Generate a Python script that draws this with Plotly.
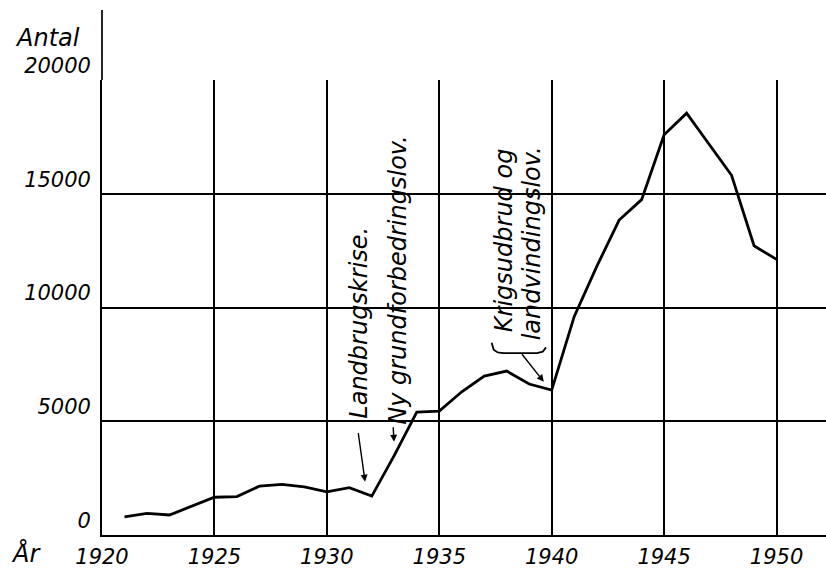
import plotly.graph_objects as go

years = list(range(1921, 1951))
antal = [800, 950, 880, 1270, 1660, 1690, 2150, 2230, 2120, 1900,
         2080, 1710, 3500, 5400, 5450, 6300, 6990, 7210, 6640, 6370,
         9600, 11800, 13850, 14750, 17600, 18550, 17200, 15820, 12720, 12120]

x_ticks = [1920, 1925, 1930, 1935, 1940, 1945, 1950]
x_tick_labels = ["1920", "1925", "1930", "1935", "1940", "1945", "1950"]
y_ticks = [0, 5000, 10000, 15000, 20000]
y_tick_labels = ["0", "5000", "10000", "15000", "20000"]

notes = ["Landbrugskrise.", "Ny grundforbedringslov.", "Krigsudbrud og", "landvindingslov."]
note_x = [1931.39, 1933.15, 1937.88, 1939.11]
note_y = [9341, 11209, 12967, 12813]

FONT = "DejaVu Sans"

fig = go.Figure()
fig.add_trace(go.Scatter(x=years, y=antal, mode="lines",
                         line=dict(color="black", width=2.8), hoverinfo="skip"))

fig.update_layout(
    width=826, height=569,
    margin=dict(l=102, r=0, t=80, b=34, autoexpand=False),
    paper_bgcolor="white", plot_bgcolor="white",
    showlegend=False,
    font=dict(family=FONT, color="black", style="italic"),
)
fig.update_xaxes(
    range=[1920, 1952.2], tickvals=x_ticks, ticktext=x_tick_labels,
    showgrid=True, gridcolor="black", gridwidth=1.6,
    showline=True, linecolor="black", linewidth=1.7,
    zeroline=False, ticks="", ticklabelstandoff=2, automargin=False,
    tickfont=dict(size=21, family=FONT, style="italic"),
)
fig.update_yaxes(
    range=[0, 20010], tickvals=y_ticks, ticktext=y_tick_labels,
    showgrid=True, gridcolor="black", gridwidth=1.6,
    showline=True, linecolor="black", linewidth=1.7,
    zeroline=False, ticks="", ticklabelposition="outside top",
    ticklabelstandoff=5, automargin=False,
    tickfont=dict(size=21, family=FONT, style="italic"),
)

# extension of the vertical axis above the top gridline
fig.add_shape(type="line", xref="paper", yref="paper", x0=0, x1=0, y0=1, y1=1.1538,
              line=dict(color="black", width=1.7))

for t, x, y in zip(notes, note_x, note_y):
    fig.add_annotation(x=x, y=y, text=t, showarrow=False, textangle=-90,
                       xanchor="center", yanchor="middle",
                       font=dict(size=24, family=FONT, style="italic"))

# arrows
fig.add_annotation(x=1931.70, y=2343, ax=-7, ay=-50, text="", showarrow=True,
                   arrowhead=2, arrowsize=1, arrowwidth=1.4, arrowcolor="black")
fig.add_annotation(x=1932.99, y=4101, ax=-1, ay=-16, text="", showarrow=True,
                   arrowhead=2, arrowsize=1, arrowwidth=1.4, arrowcolor="black")
fig.add_annotation(x=1939.65, y=6740, ax=-23, ay=-29, text="", showarrow=True,
                   arrowhead=2, arrowsize=1, arrowwidth=1.4, arrowcolor="black")

# brace under the war note
fig.add_shape(type="path", xref="x", yref="y",
              path=("M 1937.33,8450 L 1937.42,8150 L 1937.6,8030 L 1937.85,8000 "
                    "L 1939.35,8000 L 1939.6,8060 L 1939.75,8250"),
              line=dict(color="black", width=1.8))

fig.add_annotation(xref="paper", yref="paper", x=-0.0276, y=1.092, text="Antal",
                   showarrow=False, xanchor="right", yanchor="middle",
                   font=dict(size=24, family=FONT, style="italic"))
fig.add_annotation(xref="paper", yref="paper", x=-0.105, y=-0.040, text="År",
                   showarrow=False, xanchor="center", yanchor="middle",
                   font=dict(size=24, family=FONT, style="italic"))

fig.write_html("out.html", post_script="document.body.style.margin='0px';",
               config={"displayModeBar": False})
